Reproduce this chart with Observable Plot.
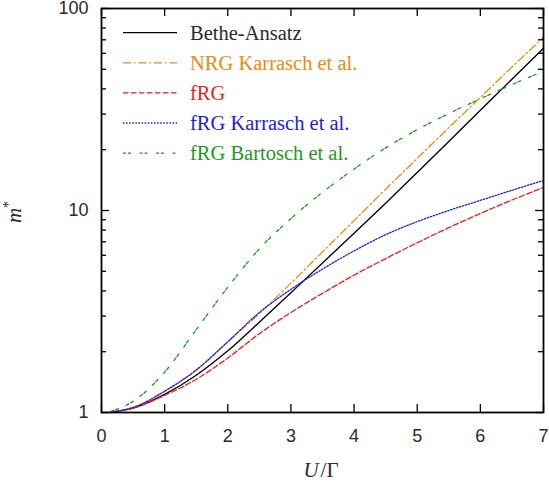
<!DOCTYPE html>
<html><head><meta charset="utf-8">
<script src="https://cdn.jsdelivr.net/npm/d3@7"></script>
<script src="https://cdn.jsdelivr.net/npm/@observablehq/plot@0.6"></script>
<style>body{margin:0;background:#fff}</style>
</head><body><div id="chart"></div>
<script>
// ---- data ----
const U = [0.15, 0.5, 1, 1.5, 2, 2.5, 3, 3.5, 4, 4.5, 5, 5.5, 6, 6.5, 7];
const betheAnsatz = [1.005, 1.052, 1.23, 1.53, 2.02, 2.80, 3.92, 5.50, 7.71, 10.86, 15.42, 21.98, 31.33, 44.67, 63.5];
const nrgKarrasch = [1.005, 1.059, 1.274, 1.622, 2.24, 3.09, 4.37, 6.24, 8.91, 12.74, 18.11, 25.70, 36.31, 51.29, 72.1];
const fRG         = [1.005, 1.052, 1.216, 1.46, 1.862, 2.455, 3.126, 3.89, 4.79, 5.78, 6.92, 8.22, 9.66, 11.27, 13.0];
const fRGKarrasch = [1.005, 1.059, 1.274, 1.622, 2.24, 3.126, 4.074, 5.13, 6.31, 7.59, 8.81, 10.0, 11.22, 12.59, 14.09];
const fRGBartosch = [1.012, 1.135, 1.585, 2.57, 4.17, 6.46, 9.12, 12.3, 16.03, 20.42, 25.12, 30.2, 35.73, 41.98, 48.98];
const seriesNames = ["Bethe-Ansatz", "NRG Karrasch et al.", "fRG", "fRG Karrasch et al.", "fRG Bartosch et al."];
const seriesValues = [betheAnsatz, nrgKarrasch, fRG, fRGKarrasch, fRGBartosch];
const xTicks = [0, 1, 2, 3, 4, 5, 6, 7];
const yLabelTicks = [1, 10, 100];
const yMinorTicks = [2, 3, 4, 5, 6, 7, 8, 9, 20, 30, 40, 50, 60, 70, 80, 90];

// ---- styles ----
const colors = ["#000000", "#ee8a0e", "#ee1c1c", "#1c1ce8", "#1a9a1a"];
const dashes = [null, "8,3,1.5,3", "5.5,2.5", "1.5,1.6", "3,2,3,8.5"];

const W = 549, H = 487;
const mL = 101, mR = 6, mT = 8, mB = 75;
const pw = W - mL - mR, ph = H - mT - mB;

const lines = seriesValues.map((vals, i) =>
  Plot.line(U.map((u, j) => ({U: u, m: vals[j]})), {
    x: "U", y: "m", stroke: colors[i], strokeWidth: i === 0 ? 1.35 : 1.3,
    strokeDasharray: dashes[i], curve: "monotone-x"
  })
);

const chart = Plot.plot({
  width: W, height: H,
  marginLeft: mL, marginRight: mR, marginTop: mT, marginBottom: mB,
  style: {fontFamily: "'Liberation Sans', Arial, sans-serif", fontSize: "18px", color: "#2a2a2a", background: "#fff"},
  x: {domain: [0, 7]},
  y: {type: "log", domain: [1, 100]},
  marks: [
    ...lines,
    // inward ticks on all four sides
    Plot.tickX(xTicks, {x: d => d, insetTop: ph - 8, stroke: "#000", strokeWidth: 1.3}),
    Plot.tickX(xTicks, {x: d => d, insetBottom: ph - 8, stroke: "#000", strokeWidth: 1.3}),
    Plot.tickY(yLabelTicks, {y: d => d, insetRight: pw - 8, stroke: "#000", strokeWidth: 1.3}),
    Plot.tickY(yLabelTicks, {y: d => d, insetLeft: pw - 8, stroke: "#000", strokeWidth: 1.3}),
    Plot.tickY(yMinorTicks, {y: d => d, insetRight: pw - 5, stroke: "#000", strokeWidth: 1.3}),
    Plot.tickY(yMinorTicks, {y: d => d, insetLeft: pw - 5, stroke: "#000", strokeWidth: 1.3}),
    Plot.axisX({ticks: xTicks, tickSize: 0, tickPadding: 17, tickFormat: d => String(d), label: null}),
    Plot.axisY({ticks: yLabelTicks, tickSize: 0, tickPadding: 13, tickFormat: d => String(d), label: null}),
    Plot.frame({stroke: "#000", strokeWidth: 1.8})
  ]
});
document.getElementById("chart").appendChild(chart);

// ---- legend & axis titles ----
const svg = d3.select(chart);
const serif = "'Liberation Serif', 'Times New Roman', serif";
const leg = svg.append("g").attr("text-anchor", "start");
seriesNames.forEach((name, i) => {
  const y = 32.7 + 30.1 * i;
  leg.append("line").attr("x1", 123).attr("x2", 177).attr("y1", y).attr("y2", y)
    .attr("stroke", colors[i]).attr("stroke-width", 1.3)
    .attr("stroke-dasharray", dashes[i] || null);
  leg.append("text").attr("x", 190).attr("y", y + 6.8).attr("text-anchor", "start")
    .attr("font-family", serif).attr("font-size", 20.5)
    .attr("fill", i === 0 ? "#2a2a2a" : colors[i]).text(name);
});
const xt = svg.append("text").attr("x", 321).attr("y", 477).attr("text-anchor", "middle")
  .attr("font-family", serif).attr("font-size", 21).attr("fill", "#2a2a2a");
xt.append("tspan").attr("font-style", "italic").text("U");
xt.append("tspan").attr("dx", 2).text("/Γ");
const yt = svg.append("text").attr("transform", "translate(21,212) rotate(-90)").attr("text-anchor", "middle")
  .attr("font-family", serif).attr("font-size", 21).attr("fill", "#2a2a2a");
yt.append("tspan").attr("font-style", "italic").text("m");
yt.append("tspan").attr("font-size", 14).attr("dy", -8).text("*");
</script>
</body></html>
